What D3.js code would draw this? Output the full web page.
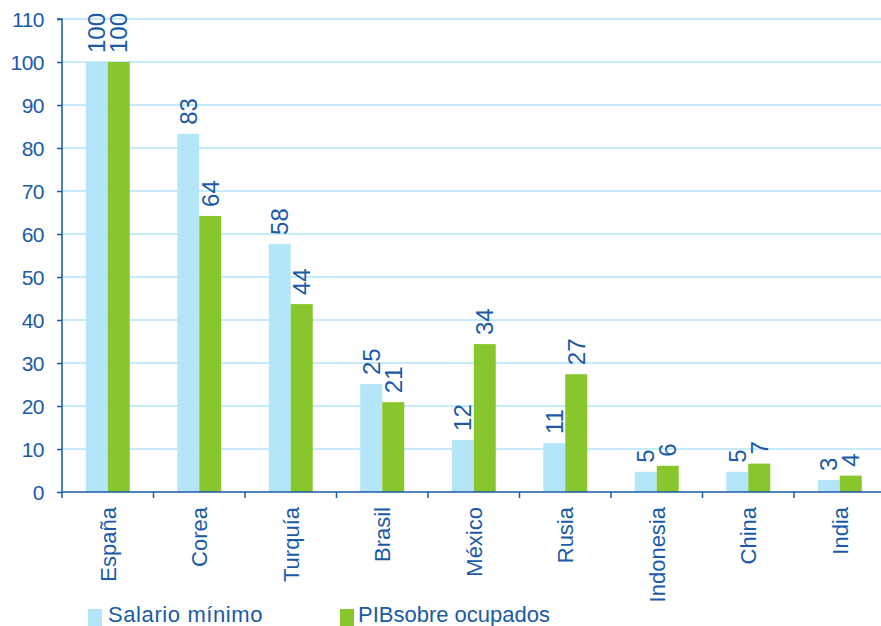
<!DOCTYPE html>
<html><head><meta charset="utf-8">
<script src="https://cdn.jsdelivr.net/npm/d3@7"></script>
<style>body{margin:0;background:#fff}svg{display:block}text{font-family:"Liberation Sans",Arial,sans-serif;fill:#1a5aa6}</style>
</head><body>
<script>
const categories = ["España","Corea","Turquía","Brasil","México","Rusia","Indonesia","China","India"];
const salario = [100, 83.3, 57.7, 25.1, 12.1, 11.4, 4.7, 4.7, 2.8];
const pib = [100, 64.2, 43.7, 20.9, 34.4, 27.4, 6.1, 6.6, 3.8];
const yTicks = [0,10,20,30,40,50,60,70,80,90,100,110];
const seriesNames = ["Salario mínimo","PIBsobre ocupados"];
const colors = ["#b5e5f8","#88c62e"];
const textBlue = "#1a5aa6";

const W = 881, H = 626;
const svg = d3.select("body").append("svg").attr("width", W).attr("height", H);
const x0 = 62, y0 = 492, yTop = 19;
const step = 91.5;
const x = d3.scaleBand().domain(categories).range([x0, x0 + step*categories.length]).paddingInner(0).paddingOuter(0);
const xs = d3.scaleBand().domain([0,1]).range([0, 44]);
const y = d3.scaleLinear().domain([0,110]).range([y0, yTop]);

// gridlines
svg.append("g").selectAll("line").data(yTicks.filter(d=>d>0)).join("line")
  .attr("x1", x0).attr("x2", W).attr("y1", d=>y(d)).attr("y2", d=>y(d))
  .attr("stroke", "#b5e5f8").attr("stroke-width", 1.5);

// bars
const series = [salario, pib];
const g = svg.append("g");
categories.forEach((c,i)=>{
  const cx = x(c) + x.bandwidth()/2 - 22;
  series.forEach((s,j)=>{
    g.append("rect").attr("x", cx + xs(j)).attr("y", y(s[i])).attr("width", xs.bandwidth()).attr("height", y0 - y(s[i])).attr("fill", colors[j]);
    const lx = cx + xs(j) + xs.bandwidth()/2;
    const ly = y(s[i]) - 9;
    g.append("text").attr("transform", `translate(${lx+8.5},${ly}) rotate(-90)`)
      .attr("text-anchor","start").style("font-size","24px")
      .text(Math.round(s[i]));
  });
});

// y axis
const yAxis = d3.axisLeft(y).tickValues(yTicks).tickSize(5).tickPadding(13);
const ya = svg.append("g").attr("transform", `translate(${x0},0)`).call(yAxis);
ya.select(".domain").attr("stroke", textBlue).attr("stroke-width",1.5).attr("d", `M-5,${yTop}H0V${y0}`);
ya.selectAll(".tick line").attr("stroke", textBlue).attr("stroke-width",1.5);
ya.selectAll("text").style("font-size","21px").style("letter-spacing","-0.5px").attr("fill", textBlue).attr("dy","0.35em").style("font-family","'Liberation Sans',Arial,sans-serif");

// x axis
const xa = svg.append("g").attr("transform", `translate(0,${y0})`);
xa.append("line").attr("x1", x0).attr("x2", W).attr("y1",0).attr("y2",0).attr("stroke", textBlue).attr("stroke-width",1.5);
d3.range(categories.length+1).forEach(i=>{
  const tx = x0 + step*i;
  xa.append("line").attr("x1",tx).attr("x2",tx).attr("y1",0).attr("y2",6).attr("stroke",textBlue).attr("stroke-width",1.5);
});
xa.selectAll("text.cat").data(categories).join("text").attr("class","cat")
  .attr("transform", d=>`translate(${x(d)+x.bandwidth()/2+8},15) rotate(-90)`)
  .attr("text-anchor","end").style("font-size","22px").text(d=>d);

// legend
const leg = svg.append("g");
[[88,108],[340,358]].forEach((p,j)=>{
  leg.append("rect").attr("x",p[0]).attr("y",609).attr("width",14).attr("height",17).attr("fill",colors[j]);
  leg.append("text").attr("x",p[1]).attr("y",622).style("font-size","22px").style("letter-spacing", j===0 ? "0.6px" : "0px").text(seriesNames[j]);
});
</script>
</body></html>
